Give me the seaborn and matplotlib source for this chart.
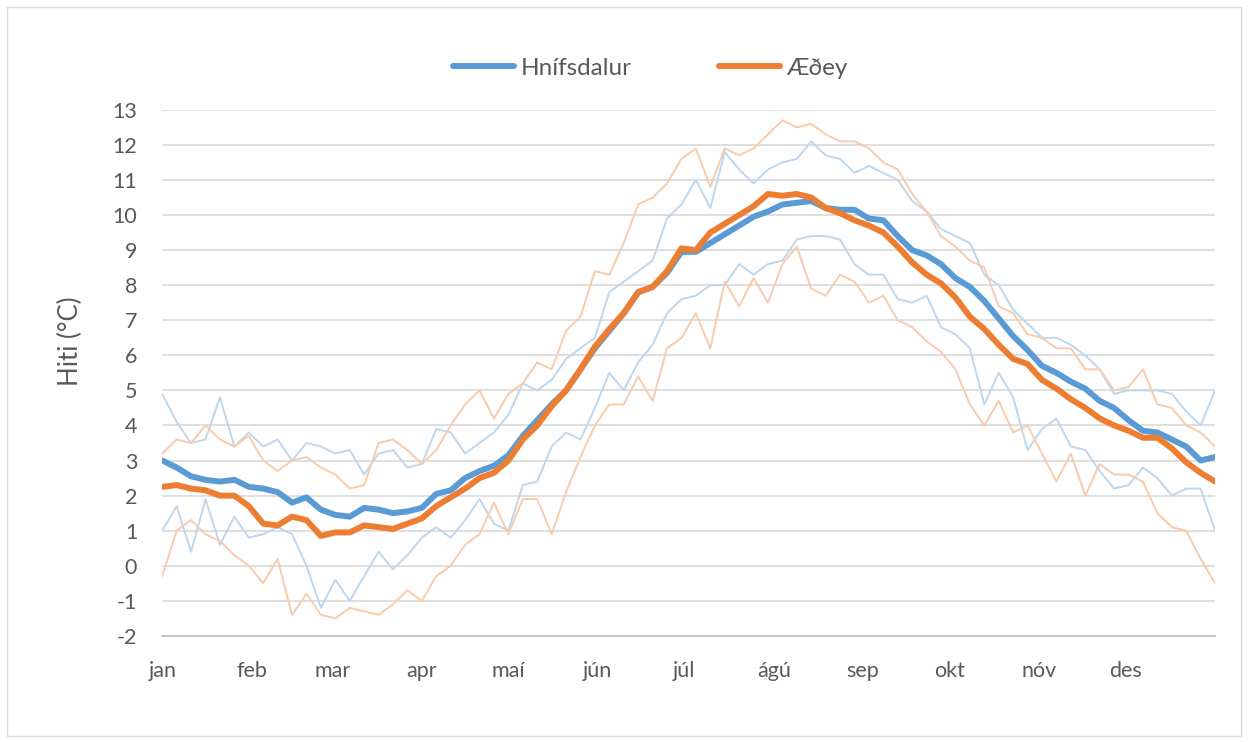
import numpy as np
import pandas as pd
import seaborn as sns
import matplotlib.pyplot as plt
from matplotlib.patches import Rectangle

# day of year (0 = 1. jan), values every 5 days
days = np.arange(0, 366, 5)

# Hnífsdalur: mean, upper and lower envelope
hn_mean = [3.0, 2.8, 2.55, 2.45, 2.4, 2.45, 2.25, 2.2, 2.1, 1.8,
           1.95, 1.6, 1.45, 1.4, 1.65, 1.6, 1.5, 1.55, 1.65, 2.05,
           2.15, 2.5, 2.7, 2.85, 3.15, 3.7, 4.15, 4.6, 5.0, 5.6,
           6.2, 6.7, 7.2, 7.8, 7.95, 8.35, 8.95, 8.95, 9.2, 9.45,
           9.7, 9.95, 10.1, 10.3, 10.35, 10.4, 10.2, 10.15, 10.15, 9.9,
           9.85, 9.4, 9.0, 8.85, 8.6, 8.2, 7.95, 7.55, 7.05, 6.55,
           6.15, 5.7, 5.5, 5.25, 5.05, 4.7, 4.5, 4.15, 3.85, 3.8,
           3.6, 3.4, 3.0, 3.1]
hn_max = [4.9, 4.1, 3.5, 3.6, 4.8, 3.4, 3.8, 3.4, 3.6, 3.0,
          3.5, 3.4, 3.2, 3.3, 2.6, 3.2, 3.3, 2.8, 2.9, 3.9,
          3.8, 3.2, 3.5, 3.8, 4.3, 5.2, 5.0, 5.3, 5.9, 6.2,
          6.5, 7.8, 8.1, 8.4, 8.7, 9.9, 10.3, 11.0, 10.2, 11.8,
          11.3, 10.9, 11.3, 11.5, 11.6, 12.1, 11.7, 11.6, 11.2, 11.4,
          11.2, 11.0, 10.4, 10.1, 9.6, 9.4, 9.2, 8.3, 8.0, 7.3,
          6.9, 6.5, 6.5, 6.3, 6.0, 5.6, 4.9, 5.0, 5.0, 5.0,
          4.9, 4.4, 4.0, 5.0]
hn_min = [1.0, 1.7, 0.4, 1.9, 0.6, 1.4, 0.8, 0.9, 1.1, 0.9,
          0.0, -1.2, -0.4, -1.0, -0.3, 0.4, -0.1, 0.3, 0.8, 1.1,
          0.8, 1.3, 1.9, 1.2, 1.0, 2.3, 2.4, 3.4, 3.8, 3.6,
          4.5, 5.5, 5.0, 5.8, 6.3, 7.2, 7.6, 7.7, 8.0, 8.0,
          8.6, 8.3, 8.6, 8.7, 9.3, 9.4, 9.4, 9.3, 8.6, 8.3,
          8.3, 7.6, 7.5, 7.7, 6.8, 6.6, 6.2, 4.6, 5.5, 4.8,
          3.3, 3.9, 4.2, 3.4, 3.3, 2.7, 2.2, 2.3, 2.8, 2.5,
          2.0, 2.2, 2.2, 1.0]

# Æðey: mean, upper and lower envelope
ae_mean = [2.25, 2.3, 2.2, 2.15, 2.0, 2.0, 1.7, 1.2, 1.15, 1.4,
           1.3, 0.85, 0.95, 0.95, 1.15, 1.1, 1.05, 1.2, 1.35, 1.7,
           1.95, 2.2, 2.5, 2.65, 3.0, 3.6, 4.0, 4.55, 5.0, 5.6,
           6.25, 6.75, 7.2, 7.8, 7.95, 8.4, 9.05, 9.0, 9.5, 9.75,
           10.0, 10.25, 10.6, 10.55, 10.6, 10.5, 10.2, 10.05, 9.85, 9.7,
           9.5, 9.1, 8.65, 8.3, 8.05, 7.65, 7.1, 6.75, 6.3, 5.9,
           5.75, 5.3, 5.05, 4.75, 4.5, 4.2, 4.0, 3.85, 3.65, 3.65,
           3.35, 2.95, 2.65, 2.4]
ae_max = [3.2, 3.6, 3.5, 4.0, 3.6, 3.4, 3.7, 3.0, 2.7, 3.0,
          3.1, 2.8, 2.6, 2.2, 2.3, 3.5, 3.6, 3.3, 2.9, 3.3,
          4.0, 4.6, 5.0, 4.2, 4.9, 5.2, 5.8, 5.6, 6.7, 7.1,
          8.4, 8.3, 9.2, 10.3, 10.5, 10.9, 11.6, 11.9, 10.8, 11.9,
          11.7, 11.9, 12.3, 12.7, 12.5, 12.6, 12.3, 12.1, 12.1, 11.9,
          11.5, 11.3, 10.6, 10.1, 9.4, 9.1, 8.7, 8.5, 7.4, 7.2,
          6.6, 6.5, 6.2, 6.2, 5.6, 5.6, 5.0, 5.1, 5.6, 4.6,
          4.5, 4.0, 3.8, 3.4]
ae_min = [-0.3, 1.0, 1.3, 0.9, 0.7, 0.3, 0.0, -0.5, 0.2, -1.4,
          -0.8, -1.4, -1.5, -1.2, -1.3, -1.4, -1.1, -0.7, -1.0, -0.3,
          0.0, 0.6, 0.9, 1.8, 0.9, 1.9, 1.9, 0.9, 2.1, 3.1,
          4.0, 4.6, 4.6, 5.4, 4.7, 6.2, 6.5, 7.2, 6.2, 8.1,
          7.4, 8.2, 7.5, 8.6, 9.1, 7.9, 7.7, 8.3, 8.1, 7.5,
          7.7, 7.0, 6.8, 6.4, 6.1, 5.6, 4.6, 4.0, 4.7, 3.8,
          4.0, 3.2, 2.4, 3.2, 2.0, 2.9, 2.6, 2.6, 2.4, 1.5,
          1.1, 1.0, 0.2, -0.5]

month_starts = [0, 31, 59, 90, 120, 151, 181, 212, 243, 273, 304, 334, 365]
month_labels = ['jan', 'feb', 'mar', 'apr', 'maí', 'jún', 'júl', 'ágú',
                'sep', 'okt', 'nóv', 'des', '']

sns.set_style('white')
plt.rcParams['font.family'] = ['Lato', 'DejaVu Sans']
plt.rcParams['axes.unicode_minus'] = False

blue, orange = '#5B9BD5', '#ED7D31'
light_blue, light_orange = '#BDD7EE', '#F8CBAD'
text_col = '#595959'

fig = plt.figure(figsize=(12.48, 7.42), dpi=100)
ax = fig.add_axes([0.13, 0.143, 0.8436, 0.709])

# thin envelope lines first
for vals, c in [(hn_max, light_blue), (hn_min, light_blue),
                (ae_max, light_orange), (ae_min, light_orange)]:
    sns.lineplot(x=days, y=vals, ax=ax, color=c, lw=1.4)

sns.lineplot(x=days, y=hn_mean, ax=ax, color=blue, lw=4.3, label='Hnífsdalur')
sns.lineplot(x=days, y=ae_mean, ax=ax, color=orange, lw=4.3, label='Æðey')

ax.set_xlim(0, 365)
ax.set_ylim(-2, 13)
ax.set_yticks(range(-2, 14))
ax.set_xticks(month_starts)
ax.set_xticklabels(month_labels)
ax.yaxis.grid(True, color='#D9D9D9', lw=1.2)
ax.xaxis.grid(False)
for s in ['top', 'right', 'left']:
    ax.spines[s].set_visible(False)
ax.spines['bottom'].set_color('#BFBFBF')
ax.spines['bottom'].set_linewidth(1.2)
ax.tick_params(axis='x', direction='out', length=6, width=1.2, color='#BFBFBF',
               labelsize=15.5, labelcolor=text_col, pad=12)
ax.tick_params(axis='y', length=0, labelsize=15.5, labelcolor=text_col, pad=18)
ax.set_xlabel('')
ax.set_ylabel('')
ax.set_axisbelow(True)

fig.text(70 / 1248, 1 - 341 / 742, 'Hiti (°C)', rotation=90, ha='center',
         va='center', fontsize=18.5, color=text_col)

ax.legend(loc='center', bbox_to_anchor=(0.521, 0.908), bbox_transform=fig.transFigure,
          ncol=2, frameon=False, fontsize=17.5, handlelength=2.5,
          handletextpad=0.25, columnspacing=3.6, labelcolor=text_col)

# chart area border
fig.patches.append(Rectangle((0.006, 0.008), 0.988, 0.982, transform=fig.transFigure,
                             fill=False, edgecolor='#D9D9D9', lw=1))

fig.savefig('out.png', dpi=100)
